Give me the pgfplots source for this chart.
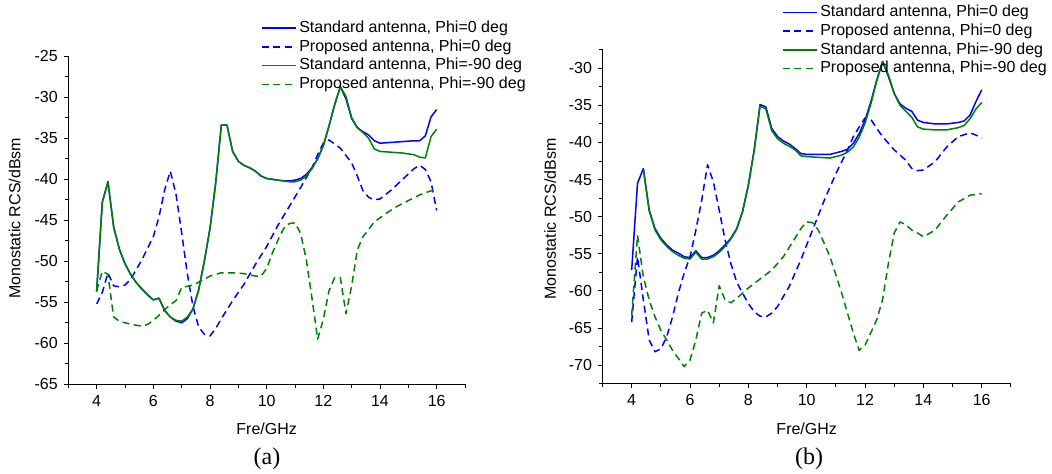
\documentclass[border=0pt]{standalone}
\usepackage{pgfplots}
\pgfplotsset{compat=1.18}
\usepackage{fontspec}
\setmainfont{Liberation Sans}
\newfontfamily\timesfont{Liberation Serif}
\definecolor{cblue}{RGB}{0,0,255}
\definecolor{cgreen}{RGB}{0,128,0}
\pgfplotsset{
  rcs/.style={
    scale only axis,
    axis x line=bottom, axis y line=left,
    axis line style={-, line width=0.9bp, black},
    tick align=outside,
    major tick length=4.5bp, minor tick length=3.5bp,
    every tick/.style={black, line width=0.9bp},
    xmin=3, xmax=17,
    xtick={4,6,...,16}, minor xtick={3,5,...,17},
    xticklabels={4,6,8,10,12,14,16},
    tick label style={font=\fontsize{16bp}{19bp}\selectfont},
    xticklabel style={yshift=-3bp},
    yticklabel style={xshift=-2.5bp},
    label style={font=\fontsize{16bp}{19bp}\selectfont},
    xlabel={Fre/GHz},
    ylabel={Monostatic RCS/dBsm},
    clip=false,
    legend cell align=left,
    legend image code/.code={\draw[##1] (0bp,0bp) -- (34.5bp,0bp);},
    legend style={draw=none, fill=none, inner sep=0pt, outer sep=0pt,
      row sep=1.2bp, column sep=1.5bp, anchor=north west,
      font=\fontsize{16bp}{19bp}\selectfont,
      nodes={inner sep=1bp, text height=12bp, text depth=3.5bp}},
    std/.style={line width=1.5bp, line join=round},
    prop/.style={line width=1.5bp, dash pattern=on 7bp off 4.5bp, line join=round},
  }
}
\begin{document}
\begin{tikzpicture}
\path[use as bounding box] (0,0) rectangle (1052bp,474bp);
% ---------------- panel (a) ----------------
\begin{axis}[rcs,
  at={(68.3bp,89.7bp)}, anchor=south west,
  width=396.7bp, height=328bp,
  ymin=-65, ymax=-25,
  ytick={-65,-60,...,-25}, minor ytick={-62.5,-57.5,...,-27.5},
  yticklabels={-65,-60,-55,-50,-45,-40,-35,-30,-25},
  xlabel style={at={(axis description cs:0.5,-0.136)}, anchor=center},
  ylabel style={at={(axis description cs:-0.1354,0.506)}, anchor=center},
  legend style={at={(axis description cs:0.4853,1.1124)}},
]
\addplot[std, cblue] coordinates {
(4.0,-53.7) (4.2,-42.8) (4.4,-40.3) (4.6,-45.8) (4.8,-48.5) (5.0,-50.3) (5.2,-51.6)
(5.4,-52.6) (5.6,-53.4) (5.8,-54.1) (6.0,-54.7) (6.2,-54.5) (6.4,-56.0) (6.6,-56.8)
(6.8,-57.3) (7.0,-57.5) (7.2,-57.0) (7.4,-55.8) (7.6,-53.5) (7.8,-50.0) (8.0,-46.0)
(8.2,-40.5) (8.4,-33.4) (8.6,-33.4) (8.8,-36.6) (9.0,-37.8) (9.2,-38.3) (9.4,-38.6)
(9.6,-39.0) (9.8,-39.6) (10.0,-39.9) (10.2,-40.0) (10.4,-40.1) (10.6,-40.2) (10.8,-40.2)
(11.0,-40.1) (11.2,-39.9) (11.4,-39.4) (11.6,-38.6) (11.8,-37.5) (12.0,-35.9) (12.2,-33.5)
(12.4,-30.9) (12.6,-28.7) (12.8,-30.2) (13.0,-32.6) (13.2,-33.7) (13.4,-34.2) (13.6,-34.6)
(13.8,-35.3) (14.0,-35.6) (14.4,-35.5) (14.8,-35.4) (15.2,-35.3) (15.4,-35.3) (15.6,-34.7)
(15.8,-32.4) (16.0,-31.5)};
\addlegendentry{Standard antenna, Phi=0 deg}
\addplot[prop, cblue] coordinates {
(4.0,-55.2) (4.2,-53.8) (4.4,-51.4) (4.6,-53.0) (4.8,-53.1) (5.0,-52.9) (5.2,-52.2)
(5.4,-51.0) (5.6,-49.8) (5.8,-48.4) (6.0,-47.0) (6.2,-44.6) (6.4,-41.3) (6.6,-39.0)
(6.8,-41.8) (7.0,-46.5) (7.2,-51.5) (7.4,-55.5) (7.6,-58.0) (7.8,-58.9) (8.0,-59.1)
(8.2,-58.2) (8.4,-57.0) (8.8,-54.8) (9.2,-52.8) (9.6,-50.4) (10.0,-48.2) (10.4,-45.6)
(10.8,-43.3) (11.2,-41.0) (11.6,-38.6) (11.8,-37.0) (12.0,-35.6) (12.2,-35.2) (12.6,-36.2)
(13.0,-38.0) (13.2,-39.6) (13.4,-41.4) (13.6,-42.2) (13.8,-42.5) (14.0,-42.4) (14.4,-41.3)
(14.8,-40.0) (15.2,-38.7) (15.4,-38.3) (15.6,-38.8) (15.8,-40.3) (16.0,-43.8)};
\addlegendentry{Proposed antenna, Phi=0 deg}
\addplot[std, cgreen] coordinates {
(4.0,-53.7) (4.2,-42.8) (4.4,-40.3) (4.6,-45.8) (4.8,-48.5) (5.0,-50.3) (5.2,-51.6)
(5.4,-52.6) (5.6,-53.4) (5.8,-54.1) (6.0,-54.7) (6.2,-54.5) (6.4,-56.0) (6.6,-56.8)
(6.8,-57.2) (7.0,-57.3) (7.2,-56.8) (7.4,-55.8) (7.6,-53.5) (7.8,-50.0) (8.0,-46.0)
(8.2,-40.5) (8.4,-33.4) (8.6,-33.4) (8.8,-36.6) (9.0,-37.8) (9.2,-38.3) (9.4,-38.6)
(9.6,-39.0) (9.8,-39.6) (10.0,-39.9) (10.2,-40.0) (10.4,-40.1) (10.6,-40.2) (10.8,-40.3)
(11.0,-40.3) (11.2,-40.1) (11.4,-39.6) (11.6,-38.7) (11.8,-37.5) (12.0,-35.9) (12.2,-33.5)
(12.4,-30.9) (12.6,-28.7) (12.8,-29.9) (13.0,-32.5) (13.2,-33.7) (13.4,-34.3) (13.6,-35.0)
(13.8,-36.3) (14.0,-36.6) (14.4,-36.7) (14.8,-36.8) (15.2,-37.0) (15.4,-37.3) (15.6,-37.4)
(15.8,-34.8) (16.0,-33.9)};
\addlegendentry{Standard antenna, Phi=-90 deg}
\addplot[prop, cgreen] coordinates {
(4.0,-53.6) (4.2,-51.2) (4.4,-51.6) (4.6,-56.8) (4.8,-57.3) (5.0,-57.5) (5.4,-57.8)
(5.6,-57.9) (5.8,-57.7) (6.0,-57.2) (6.2,-56.6) (6.4,-55.9) (6.6,-55.3) (6.8,-54.8)
(7.0,-53.2) (7.4,-52.9) (7.8,-52.2) (8.0,-51.8) (8.4,-51.4) (8.8,-51.4) (9.2,-51.5)
(9.6,-51.8) (9.8,-51.8) (10.0,-50.9) (10.2,-49.0) (10.4,-47.4) (10.6,-46.0) (10.8,-45.4)
(11.0,-45.3) (11.2,-46.6) (11.4,-49.8) (11.6,-54.5) (11.8,-59.5) (12.0,-57.1) (12.2,-53.6)
(12.4,-52.0) (12.6,-52.0) (12.8,-56.4) (13.0,-53.0) (13.2,-48.6) (13.4,-47.0) (13.8,-45.2)
(14.2,-44.2) (14.6,-43.3) (15.0,-42.6) (15.4,-41.9) (15.8,-41.4) (16.0,-41.5)};
\addlegendentry{Proposed antenna, Phi=-90 deg}
\end{axis}
% ---------------- panel (b) ----------------
\begin{axis}[rcs,
  at={(602.5bp,90.3bp)}, anchor=south west,
  width=408.4bp, height=334bp,
  ymin=-72.5, ymax=-27.5,
  ytick={-70,-65,...,-30}, minor ytick={-72.5,-67.5,...,-27.5},
  yticklabels={-70,-65,-60,-55,-50,-45,-40,-35,-30},
  xlabel style={at={(axis description cs:0.5,-0.135)}, anchor=center},
  ylabel style={at={(axis description cs:-0.128,0.493)}, anchor=center},
  legend style={at={(axis description cs:0.439,1.1377)}},
]
\addplot[std, cblue] coordinates {
(4.0,-57.2) (4.2,-45.5) (4.4,-43.5) (4.6,-49.1) (4.8,-51.6) (5.0,-52.9) (5.2,-53.8)
(5.4,-54.5) (5.6,-54.9) (5.8,-55.4) (6.0,-55.5) (6.2,-54.6) (6.4,-55.5) (6.6,-55.5)
(6.8,-55.2) (7.0,-54.6) (7.2,-53.8) (7.4,-52.9) (7.6,-51.6) (7.8,-49.3) (8.0,-45.7)
(8.2,-41.0) (8.4,-34.9) (8.6,-35.2) (8.8,-38.1) (9.0,-39.2) (9.2,-39.8) (9.4,-40.2)
(9.6,-40.8) (9.8,-41.5) (10.0,-41.6) (10.4,-41.6) (10.8,-41.6) (11.2,-41.2) (11.4,-40.9)
(11.6,-40.1) (11.8,-38.8) (12.0,-37.0) (12.2,-34.5) (12.4,-31.6) (12.6,-29.1) (12.8,-31.1)
(13.0,-33.4) (13.2,-34.8) (13.4,-35.4) (13.6,-35.8) (13.8,-37.0) (14.0,-37.3) (14.4,-37.5)
(14.8,-37.5) (15.2,-37.3) (15.4,-37.1) (15.6,-36.3) (15.8,-34.5) (16.0,-32.9)};
\addlegendentry{Standard antenna, Phi=0 deg}
\addplot[prop, cblue] coordinates {
(4.0,-64.2) (4.2,-55.4) (4.4,-61.2) (4.6,-66.6) (4.8,-68.2) (5.0,-67.8) (5.2,-66.2)
(5.4,-63.5) (5.6,-60.3) (5.8,-57.6) (6.0,-55.4) (6.2,-51.8) (6.4,-47.8) (6.6,-43.0)
(6.8,-45.3) (7.0,-49.1) (7.2,-53.1) (7.4,-56.3) (7.6,-58.8) (7.8,-60.3) (8.0,-61.7)
(8.2,-62.8) (8.4,-63.4) (8.6,-63.5) (8.8,-63.0) (9.0,-62.1) (9.4,-59.4) (9.8,-55.8)
(10.2,-51.8) (10.6,-47.8) (11.0,-44.2) (11.4,-41.0) (11.6,-39.2) (11.8,-37.9) (12.0,-36.7)
(12.2,-36.9) (12.4,-38.1) (12.6,-39.2) (13.0,-41.0) (13.4,-42.4) (13.6,-43.5) (13.8,-43.8)
(14.0,-43.7) (14.4,-42.6) (14.8,-40.6) (15.2,-39.2) (15.6,-38.7) (15.8,-39.0) (16.0,-39.4)};
\addlegendentry{Proposed antenna, Phi=0 deg}
\addplot[std, cgreen] coordinates {
(4.4,-43.6) (4.6,-49.2) (4.8,-51.8) (5.0,-53.1) (5.2,-54.0) (5.4,-54.7) (5.6,-55.2)
(5.8,-55.6) (6.0,-55.7) (6.2,-54.8) (6.4,-55.7) (6.6,-55.7) (6.8,-55.4) (7.0,-54.8)
(7.2,-54.0) (7.4,-53.0) (7.6,-51.7) (7.8,-49.4) (8.0,-45.8) (8.2,-41.1) (8.4,-35.1)
(8.6,-35.5) (8.8,-38.4) (9.0,-39.5) (9.2,-40.1) (9.4,-40.5) (9.6,-41.0) (9.8,-41.8)
(10.0,-41.9) (10.4,-42.0) (10.8,-42.1) (11.2,-41.7) (11.4,-41.3) (11.6,-40.6) (11.8,-39.3)
(12.0,-37.4) (12.2,-34.8) (12.4,-31.7) (12.6,-29.1) (12.8,-30.9) (13.0,-33.4) (13.2,-35.0)
(13.4,-35.8) (13.6,-36.6) (13.8,-37.9) (14.0,-38.2) (14.4,-38.3) (14.8,-38.3) (15.2,-38.0)
(15.4,-37.7) (15.6,-36.8) (15.8,-35.5) (16.0,-34.6)};
\addlegendentry{Standard antenna, Phi=-90 deg}
\addplot[prop, cgreen] coordinates {
(4.0,-63.3) (4.2,-52.5) (4.4,-58.1) (4.6,-61.2) (4.8,-63.5) (5.0,-65.3) (5.2,-66.6)
(5.4,-68.0) (5.6,-69.1) (5.8,-70.2) (6.0,-69.3) (6.2,-66.6) (6.4,-63.0) (6.6,-62.6)
(6.8,-64.3) (7.0,-59.3) (7.2,-61.2) (7.4,-61.6) (7.6,-61.0) (8.0,-59.6) (8.4,-58.4)
(8.8,-57.2) (9.2,-55.4) (9.6,-52.9) (9.8,-51.6) (10.0,-50.7) (10.2,-50.8) (10.4,-51.8)
(10.8,-55.4) (11.2,-60.3) (11.6,-65.7) (11.8,-68.0) (12.0,-67.3) (12.4,-63.9) (12.6,-61.2)
(12.8,-56.3) (13.0,-52.2) (13.2,-50.7) (13.4,-51.1) (13.6,-51.8) (13.8,-52.2) (14.0,-52.7)
(14.4,-51.8) (14.8,-49.8) (15.2,-48.0) (15.6,-47.1) (16.0,-46.9)};
\addlegendentry{Proposed antenna, Phi=-90 deg}
\end{axis}
\node[font=\timesfont\fontsize{24bp}{28bp}\selectfont] at (267bp,15bp) {(a)};
\node[font=\timesfont\fontsize{24bp}{28bp}\selectfont] at (809bp,15bp) {(b)};
\end{tikzpicture}
\end{document}
